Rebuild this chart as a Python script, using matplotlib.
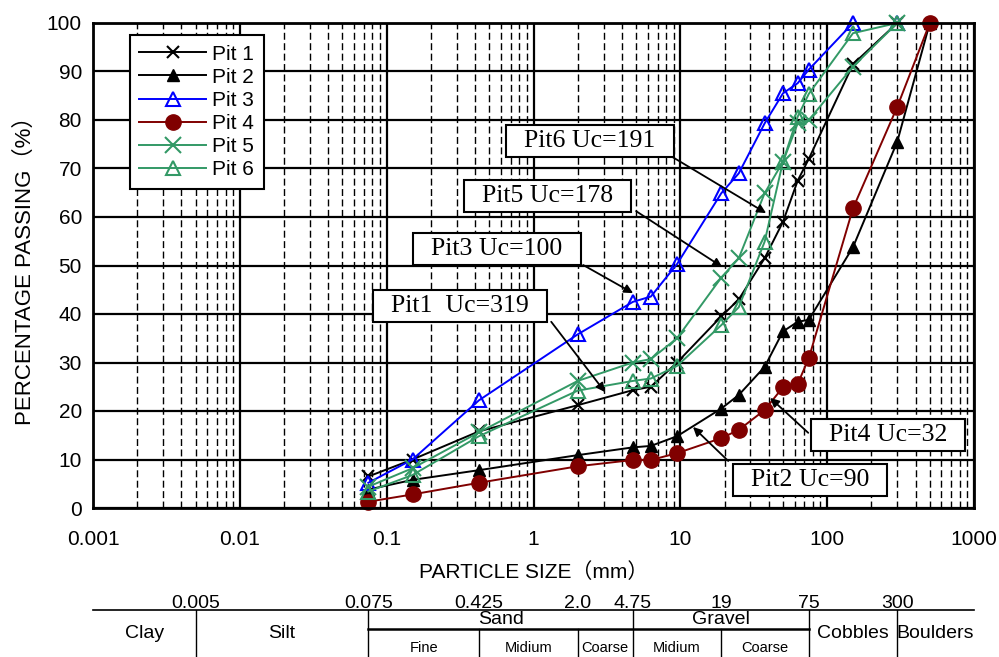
import matplotlib
matplotlib.use("Agg")
import matplotlib.pyplot as plt
from matplotlib import font_manager

# tamices (mm) y porcentaje que pasa
tamices = [0.075, 0.15, 0.425, 2.0, 4.75, 6.3, 9.5, 19, 25, 37.5, 50, 63, 75, 150, 300, 500]

pit1 = [6.5, 10.0, 15.8, 21.2, 24.3, 25.0, 30.0, 39.5, 43.0, 51.5, 59.0, 67.5, 72.0, 91.5, 100]
pit2 = [3.8, 5.8, 7.8, 10.9, 12.5, 12.8, 14.8, 20.5, 23.3, 29.1, 36.4, 38.4, 38.8, 53.8, 75.5, 100]
pit3 = [5.2, 10.0, 22.2, 35.8, 42.5, 43.6, 50.3, 64.9, 69.0, 79.3, 85.5, 87.6, 90.4, 100, 100]
pit4 = [1.3, 2.8, 5.2, 8.6, 9.9, 9.9, 11.3, 14.4, 16.1, 20.2, 24.9, 25.6, 30.9, 61.8, 82.7, 100]
pit5 = [4.4, 8.2, 15.6, 26.2, 30.0, 30.7, 35.0, 47.5, 51.5, 64.9, 71.4, 79.3, 80.0, 91.0, 100]
pit6 = [3.4, 6.8, 14.8, 24.2, 26.2, 26.7, 29.3, 37.7, 41.4, 54.9, 71.4, 80.7, 85.4, 97.9, 100]

# notas: texto, centro de la caja, inicio y punta de la flecha
notas = [
    ("Pit6 Uc=191", (2.43, 75.7), (8.8, 72.4), (38.4, 60.8)),
    ("Pit5 Uc=178", (1.24, 64.3), (5.0, 61.2), (19.3, 49.7)),
    ("Pit3 Uc=100", (0.565, 53.4), (2.18, 50.1), (4.77, 44.3)),
    ("Pit1  Uc=319", (0.316, 41.6), (1.32, 38.4), (3.07, 23.9)),
    ("Pit4 Uc=32", (260, 15.1), (74.3, 15.5), (40.9, 22.7)),
    ("Pit2 Uc=90", (76.6, 5.8), (21.2, 9.7), (12.2, 16.7)),
]

# clasificacion de suelos
limites = [0.005, 0.075, 0.425, 2.0, 4.75, 19, 75, 300]
limites_txt = ["0.005", "0.075", "0.425", "2.0", "4.75", "19", "75", "300"]
clases = [("Clay", 0.001, 0.005), ("Silt", 0.005, 0.075),
          ("Cobbles", 75, 300), ("Boulders", 300, 1000)]
grupos = [("Sand", 0.075, 4.75), ("Gravel", 4.75, 75)]
subclases = [("Fine", 0.075, 0.425), ("Midium", 0.425, 2.0), ("Coarse", 2.0, 4.75),
             ("Midium", 4.75, 19), ("Coarse", 19, 75)]

nombres = {f.name for f in font_manager.fontManager.ttflist}
angosta = "Liberation Sans Narrow" if "Liberation Sans Narrow" in nombres else "Liberation Sans"
sans = ["Liberation Sans", "Noto Sans CJK JP"]
plt.rcParams["font.family"] = sans

fig = plt.figure(figsize=(9.99, 6.57), dpi=100)
ax = fig.add_axes([93 / 999, 1 - 508 / 657, 881 / 999, 485 / 657])

verde = "#339966"
estilos = [
    ("Pit 1", pit1, dict(color="black", marker="x", ms=9, mew=1.5)),
    ("Pit 2", pit2, dict(color="black", marker="^", ms=9)),
    ("Pit 3", pit3, dict(color="blue", marker="^", ms=10, mfc="none", mew=1.5)),
    ("Pit 4", pit4, dict(color="#800000", marker="o", ms=11)),
    ("Pit 5", pit5, dict(color=verde, marker="x", ms=11, mew=1.5)),
    ("Pit 6", pit6, dict(color=verde, marker="^", ms=10, mfc="none", mew=1.5)),
]
for nombre, valores, kw in estilos:
    ax.plot(tamices[:len(valores)], valores, lw=1.4, label=nombre, clip_on=False, **kw)

ax.set_xscale("log")
ax.set_xlim(0.001, 1000)
ax.set_ylim(0, 100)
ax.set_yticks(range(0, 101, 10))
ax.grid(True, which="major", color="black", lw=1.6)
ax.grid(True, which="minor", axis="x", color="black", lw=1.0, ls=(0, (5, 2.5)))
ax.set_axisbelow(True)
ax.tick_params(which="both", length=0)
ax.tick_params(axis="y", labelsize=15, pad=8)
ax.tick_params(axis="x", pad=16)
ax.set_xticks([0.001, 0.01, 0.1, 1, 10, 100, 1000])
ax.set_xticklabels(["0.001", "0.01", "0.1", "1", "10", "100", "1000"],
                   fontfamily=[angosta, "Noto Sans CJK JP"], fontsize=15)
for s in ax.spines.values():
    s.set_linewidth(2)

ax.set_ylabel("PERCENTAGE PASSING（%）", fontsize=16, labelpad=8)
ax.set_xlabel("PARTICLE SIZE（mm）", fontsize=15, labelpad=9,
              fontfamily=[angosta, "Noto Sans CJK JP"])

leg = ax.legend(loc="upper left", bbox_to_anchor=(0.042, 0.975), borderaxespad=0,
                fancybox=False, edgecolor="black", framealpha=1, fontsize=15,
                handlelength=3.2, labelspacing=0.2, borderpad=0.45, handletextpad=0.3)
leg.get_frame().set_linewidth(1.5)

for texto, centro, inicio, punta in notas:
    ax.text(centro[0], centro[1], "  " + texto + "  ", fontsize=18.5,
            fontfamily="Liberation Serif", ha="center", va="center", zorder=5,
            bbox=dict(boxstyle="square,pad=0.2", fc="white", ec="black", lw=1.5))
    ax.annotate("", xy=punta, xytext=inicio, zorder=6,
                arrowprops=dict(arrowstyle="-|>", color="black", lw=1.3,
                                mutation_scale=13, shrinkA=0, shrinkB=0))

# tabla de clasificacion
tb = fig.add_axes([93 / 999, 0, 881 / 999, 47 / 657])
tb.set_xscale("log")
tb.set_xlim(0.001, 1000)
tb.set_ylim(0, 1)
tb.axis("off")
tb.axhline(1, color="black", lw=1.2, clip_on=False)
for v in [0.005, 0.075, 4.75, 75, 300]:
    tb.plot([v, v], [0, 1], color="black", lw=1.0)
for v in [0.425, 2.0, 19]:
    tb.plot([v, v], [0, 0.6], color="black", lw=1.0)
tb.plot([0.075, 75], [0.6, 0.6], color="black", lw=1.8)
for v, t in zip(limites, limites_txt):
    tb.text(v, 1.13, t, ha="center", va="center", fontsize=14, fontfamily=angosta,
            clip_on=False)
for t, a, b in clases:
    tb.text((a * b) ** 0.5, 0.5, t, ha="center", va="center", fontsize=14,
            fontfamily=angosta)
for t, a, b in grupos:
    tb.text((a * b) ** 0.5, 0.8, t, ha="center", va="center", fontsize=14,
            fontfamily=angosta)
for t, a, b in subclases:
    tb.text((a * b) ** 0.5, 0.2, t, ha="center", va="center", fontsize=10.5,
            fontfamily=angosta)

fig.savefig("out.png", dpi=100)
